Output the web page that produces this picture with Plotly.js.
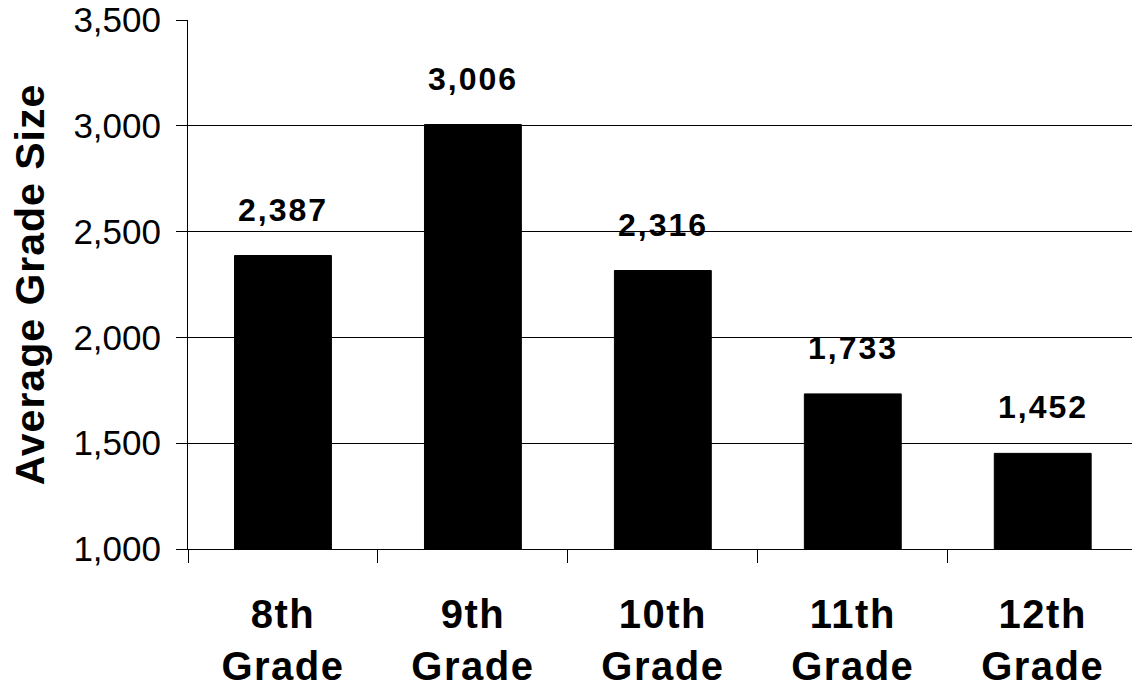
<!DOCTYPE html>
<html>
<head>
<meta charset="utf-8">
<script src="https://cdn.plot.ly/plotly-3.0.1.min.js"></script>
<style>
html,body{margin:0;padding:0;background:#fff;}
#chart{width:1132px;height:691px;}
#chart .xtick text{letter-spacing:1.5px;}
#chart .ytitle{letter-spacing:1px;}
#chart .annotation-text{letter-spacing:2px;}
</style>
</head>
<body>
<div id="chart"></div>
<script>
const categories = ["8th<br>Grade", "9th<br>Grade", "10th<br>Grade", "11th<br>Grade", "12th<br>Grade"];
const values = [2387, 3006, 2316, 1733, 1452];
const valueLabels = ["2,387", "3,006", "2,316", "1,733", "1,452"];
const yTickVals = [1000, 1500, 2000, 2500, 3000, 3500];
const yTickText = ["1,000", "1,500", "2,000", "2,500", "3,000", "3,500"];

const font = "Liberation Sans, Arial, sans-serif";

const trace = {
  type: "bar",
  x: categories,
  y: values,
  width: 0.51,
  marker: {color: "#000000", line: {color: "#000000", width: 1}},
  hoverinfo: "skip"
};

const annotations = categories.map((c, i) => ({
  x: c, y: values[i], text: valueLabels[i],
  xref: "x", yref: "y", showarrow: false,
  yanchor: "bottom", yshift: 26,
  font: {family: font, size: 32, color: "#000", weight: "bold"}
}));

const layout = {
  width: 1132, height: 691,
  margin: {l: 188, r: 0, t: 20, b: 142},
  paper_bgcolor: "#fff", plot_bgcolor: "#fff",
  showlegend: false,
  bargap: 0.49,
  font: {family: font, color: "#000"},
  xaxis: {
    type: "category",
    range: [-0.5, 4.47],
    tickson: "boundaries",
    ticks: "outside", ticklen: 13, tickcolor: "#000", tickwidth: 1,
    showline: true, linecolor: "#000", linewidth: 1,
    showgrid: false,
    tickfont: {family: font, size: 40, color: "#000", weight: "bold"},
    ticklabelstandoff: 30
  },
  yaxis: {
    range: [1000, 3500],
    tickvals: yTickVals, ticktext: yTickText,
    ticks: "outside", ticklen: 11, tickcolor: "#000", tickwidth: 1,
    showline: true, linecolor: "#000", linewidth: 1,
    showgrid: true, gridcolor: "#000", gridwidth: 1,
    zeroline: false,
    ticklabelstandoff: 8,
    tickfont: {family: font, size: 35, color: "#000"},
    title: {text: "Average Grade Size", font: {family: font, size: 41, color: "#000", weight: "bold"}, standoff: 16}
  },
  annotations: annotations
};

Plotly.newPlot("chart", [trace], layout, {staticPlot: true, displayModeBar: false});
</script>
</body>
</html>
